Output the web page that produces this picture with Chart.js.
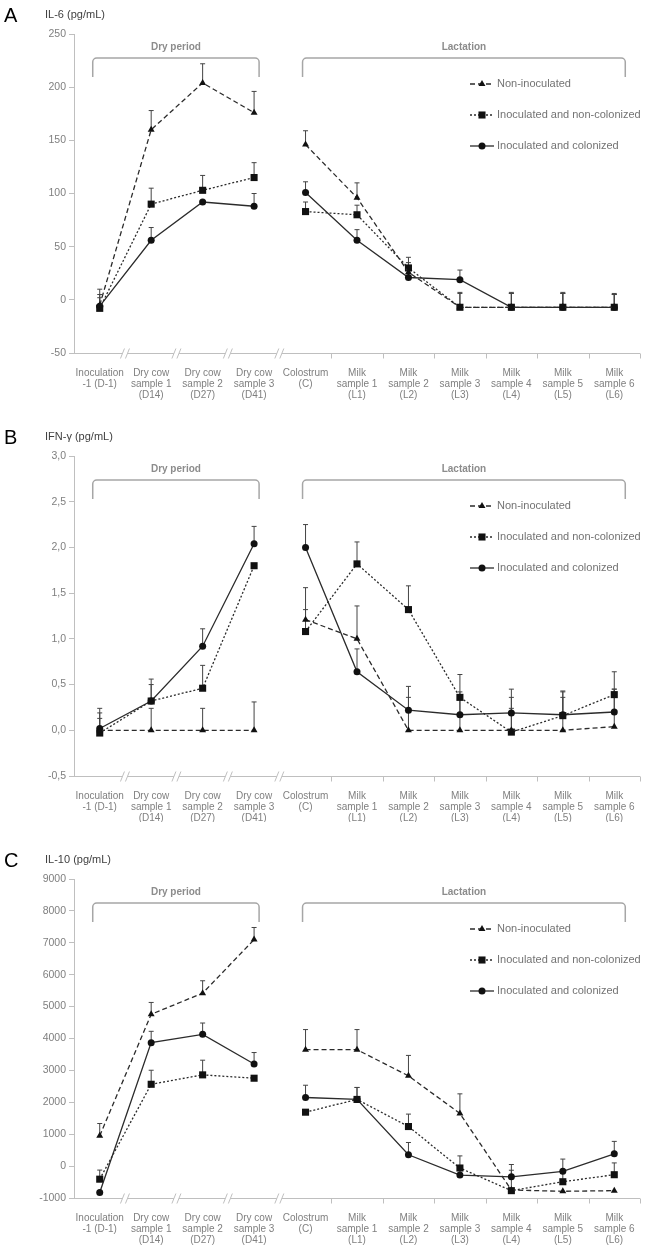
<!DOCTYPE html>
<html>
<head>
<meta charset="utf-8">
<script src="https://cdn.jsdelivr.net/npm/chart.js@4.4.1/dist/chart.umd.min.js"></script>
<style>
  body { margin: 0; background: #fff; width: 645px; height: 1245px; position: relative; overflow: hidden; }
  canvas { position: absolute; left: 0; }
</style>
</head>
<body>
<canvas id="chartA" width="645" height="400" style="top:0px"></canvas>
<canvas id="chartB" width="645" height="400" style="top:422px"></canvas>
<canvas id="chartC" width="645" height="400" style="top:845px"></canvas>
<script>
// categories on the x axis
const categories = [
    ["Inoculation", "-1 (D-1)"],
    ["Dry cow", "sample 1", "(D14)"],
    ["Dry cow", "sample 2", "(D27)"],
    ["Dry cow", "sample 3", "(D41)"],
    ["Colostrum", "(C)"],
    ["Milk", "sample 1", "(L1)"],
    ["Milk", "sample 2", "(L2)"],
    ["Milk", "sample 3", "(L3)"],
    ["Milk", "sample 4", "(L4)"],
    ["Milk", "sample 5", "(L5)"],
    ["Milk", "sample 6", "(L6)"]
];
const seriesNames = ["Non-inoculated", "Inoculated and non-colonized", "Inoculated and colonized"];

// IL-6 (pg/mL): means and top of error bars
const il6NonInoc = [-5, 160, 204, 176, 146, 96, 26, -7, -7, -7, -7];
const il6NonInocErr = [10, 178, 222, 196, 159, 110, 35, 6, 6, 6, 5];
const il6NonCol = [-8, 90, 103, 115, 83, 80, 30, -7, -7, -7, -7];
const il6NonColErr = [5, 105, 117, 129, 92, 89, 40, 7, 6, 6, 5];
const il6Col = [-6, 56, 92, 88, 101, 56, 21, 19, -7, -7, -7];
const il6ColErr = [2, 68, null, 100, 111, 66, 30, 28, 7, 7, 6];

// IFN-gamma (pg/mL)
const ifnNonInoc = [0, 0, 0, 0, 1.21, 1.0, 0, 0, 0, 0, 0.04];
const ifnNonInocErr = [0.24, 0.24, 0.24, 0.31, 1.32, 1.36, 0.36, 0.42, 0.36, 0.42, 0.45];
const ifnNonCol = [-0.03, 0.32, 0.46, 1.80, 1.08, 1.82, 1.32, 0.36, -0.02, 0.16, 0.39];
const ifnNonColErr = [0.19, 0.50, 0.71, null, 1.56, 2.06, 1.58, 0.61, 0.24, 0.36, 0.64];
const ifnCol = [0.02, 0.32, 0.92, 2.04, 2.0, 0.64, 0.22, 0.17, 0.19, 0.17, 0.20];
const ifnColErr = [0.13, 0.56, 1.11, 2.23, 2.25, 0.89, 0.48, 0.36, 0.45, 0.43, 0.45];

// IL-10 (pg/mL)
const il10NonInoc = [950, 4760, 5420, 7100, 3650, 3650, 2830, 1650, -750, -790, -770];
const il10NonInocErr = [1335, 5130, 5810, 7480, 4280, 4280, 3470, 2265, null, null, null];
const il10NonCol = [-410, 2565, 2860, 2755, 1690, 2090, 1240, -60, -770, -490, -270];
const il10NonColErr = [-125, 3005, 3320, null, null, 2465, 1630, 320, -130, -150, 100];
const il10Col = [-830, 3870, 4130, 3200, 2150, 2090, 355, -280, -335, -165, 385];
const il10ColErr = [null, 4225, 4485, 3560, 2535, 2465, 740, 0, 50, 220, 775];

const gray = '#7f7f7f';
const lineColor = '#2b2b2b';
const markColor = '#111';

function makeDatasets(vals, errs) {
    const styles = [
        { dash: [5, 3], point: 'triangle', r: 4 },
        { dash: [2, 2], point: 'rect', r: 5 },
        { dash: [], point: 'circle', r: 3.5 }
    ];
    return vals.map((v, i) => ({
        label: seriesNames[i],
        data: v,
        errorTop: errs[i],
        borderColor: lineColor,
        borderWidth: 1.3,
        borderDash: styles[i].dash,
        pointStyle: styles[i].point,
        pointRadius: styles[i].r,
        pointBackgroundColor: markColor,
        pointBorderColor: markColor,
        pointBorderWidth: 0,
        tension: 0,
        segment: {
            // no line between dry period and lactation
            borderColor: ctx => ctx.p0DataIndex === 3 ? 'rgba(0,0,0,0)' : undefined
        }
    }));
}

function drawMarker(ctx, style, x, y, r) {
    ctx.beginPath();
    if (style === 'triangle') {
        ctx.moveTo(x, y - r);
        ctx.lineTo(x + r * 0.87, y + r * 0.5);
        ctx.lineTo(x - r * 0.87, y + r * 0.5);
        ctx.closePath();
    } else if (style === 'rect') {
        const s = r * Math.SQRT1_2;
        ctx.rect(x - s, y - s, 2 * s, 2 * s);
    } else {
        ctx.arc(x, y, r, 0, Math.PI * 2);
    }
    ctx.fill();
}

function decorPlugin(letter, title) {
    return {
        id: 'decor',
        beforeDatasetsDraw(chart) {
            // error bars (upper side only)
            const ctx = chart.ctx;
            const y = chart.scales.y;
            ctx.save();
            ctx.strokeStyle = '#444';
            ctx.lineWidth = 1;
            chart.data.datasets.forEach((ds, i) => {
                const meta = chart.getDatasetMeta(i);
                ds.errorTop.forEach((e, j) => {
                    if (e == null) return;
                    const p = meta.data[j];
                    const yt = y.getPixelForValue(e);
                    ctx.beginPath();
                    ctx.moveTo(p.x, p.y);
                    ctx.lineTo(p.x, yt);
                    ctx.moveTo(p.x - 2.5, yt);
                    ctx.lineTo(p.x + 2.5, yt);
                    ctx.stroke();
                });
            });
            ctx.restore();
        },
        afterDraw(chart) {
            const ctx = chart.ctx;
            const a = chart.chartArea;
            const x = chart.scales.x;
            const step = (a.right - a.left) / categories.length;
            ctx.save();

            // x axis with breaks in the dry period
            ctx.strokeStyle = '#bfbfbf';
            ctx.lineWidth = 1;
            const yb = a.bottom + 0.5;
            let start = a.left;
            for (let k = 1; k <= 4; k++) {
                const b = a.left + k * step;
                ctx.beginPath();
                ctx.moveTo(start, yb);
                ctx.lineTo(b - 3, yb);
                ctx.moveTo(b - 5, yb + 5);
                ctx.lineTo(b - 1, yb - 5);
                ctx.moveTo(b, yb + 5);
                ctx.lineTo(b + 4, yb - 5);
                ctx.stroke();
                start = b + 2;
            }
            ctx.beginPath();
            ctx.moveTo(start, yb);
            ctx.lineTo(a.right, yb);
            for (let k = 5; k <= categories.length; k++) {
                const b = Math.round(a.left + k * step) + 0.5;
                ctx.moveTo(b, yb);
                ctx.lineTo(b, yb + 5);
            }
            ctx.stroke();

            // period brackets
            ctx.strokeStyle = '#a6a6a6';
            ctx.lineWidth = 1.5;
            const bt = a.top + 24, bb = a.top + 43, rr = 4;
            const brackets = [
                [x.getPixelForValue(0) - 7, x.getPixelForValue(3) + 5, 'Dry period'],
                [x.getPixelForValue(4) - 3, x.getPixelForValue(10) + 11, 'Lactation']
            ];
            ctx.fillStyle = '#8c8c8c';
            ctx.font = 'bold 10px "Liberation Sans", Arial, sans-serif';
            ctx.textAlign = 'center';
            ctx.textBaseline = 'middle';
            brackets.forEach(([l, r, t]) => {
                ctx.beginPath();
                ctx.moveTo(l, bb);
                ctx.lineTo(l, bt + rr);
                ctx.arcTo(l, bt, l + rr, bt, rr);
                ctx.lineTo(r - rr, bt);
                ctx.arcTo(r, bt, r, bt + rr, rr);
                ctx.lineTo(r, bb);
                ctx.stroke();
                ctx.fillText(t, (l + r) / 2, a.top + 13);
            });

            // legend
            const rows = [a.top + 50, a.top + 81, a.top + 112];
            chart.data.datasets.forEach((ds, i) => {
                const ly = rows[i];
                ctx.strokeStyle = lineColor;
                ctx.lineWidth = 1.3;
                ctx.setLineDash(ds.borderDash);
                ctx.beginPath();
                ctx.moveTo(470, ly);
                ctx.lineTo(494, ly);
                ctx.stroke();
                ctx.setLineDash([]);
                ctx.fillStyle = markColor;
                drawMarker(ctx, ds.pointStyle, 482, ly, ds.pointRadius);
                ctx.fillStyle = '#737373';
                ctx.font = '11px "Liberation Sans", Arial, sans-serif';
                ctx.textAlign = 'left';
                ctx.fillText(ds.label, 497, ly);
            });

            // panel letter and unit title
            ctx.fillStyle = '#000';
            ctx.font = '20px "Liberation Sans", Arial, sans-serif';
            ctx.textAlign = 'left';
            ctx.fillText(letter, 4, 16);
            ctx.fillStyle = '#404040';
            ctx.font = '11px "Liberation Sans", Arial, sans-serif';
            ctx.fillText(title, 45, 15);
            ctx.restore();
        }
    };
}

function createPanel(id, letter, title, vals, errs, yMin, yMax, yStep, fmt, xHeight) {
    const el = document.getElementById(id);
    const config = {
        type: 'line',
        data: { labels: categories, datasets: makeDatasets(vals, errs) },
        options: {
            responsive: false,
            animation: false,
            layout: { padding: { top: 34, right: 5, left: 0, bottom: 0 } },
            plugins: { legend: { display: false }, tooltip: { enabled: false } },
            scales: {
                x: {
                    offset: true,
                    grid: { display: false },
                    border: { display: false },
                    ticks: {
                        color: gray,
                        maxRotation: 0,
                        autoSkip: false,
                        padding: 7,
                        font: { family: '"Liberation Sans", Arial, sans-serif', size: 10, lineHeight: 1.1 }
                    },
                    afterFit: s => { s.height = xHeight; }
                },
                y: {
                    min: yMin,
                    max: yMax,
                    grid: { drawOnChartArea: false, color: '#bfbfbf', tickLength: 5 },
                    border: { color: '#bfbfbf' },
                    ticks: {
                        stepSize: yStep,
                        color: gray,
                        padding: 3,
                        font: { family: '"Liberation Sans", Arial, sans-serif', size: 10.5 },
                        callback: v => fmt(v)
                    },
                    afterFit: s => { s.width = 74; }
                }
            }
        },
        plugins: [decorPlugin(letter, title)]
    };
    return new Chart(el, config);
}

createPanel('chartA', 'A', 'IL-6 (pg/mL)',
    [il6NonInoc, il6NonCol, il6Col], [il6NonInocErr, il6NonColErr, il6ColErr],
    -50, 250, 50, v => String(v), 47);
createPanel('chartB', 'B', 'IFN-\u03b3 (pg/mL)',
    [ifnNonInoc, ifnNonCol, ifnCol], [ifnNonInocErr, ifnNonColErr, ifnColErr],
    -0.5, 3.0, 0.5, v => v.toFixed(1).replace('.', ','), 46);
createPanel('chartC', 'C', 'IL-10 (pg/mL)',
    [il10NonInoc, il10NonCol, il10Col], [il10NonInocErr, il10NonColErr, il10ColErr],
    -1000, 9000, 1000, v => String(v), 47);
</script>
</body>
</html>
